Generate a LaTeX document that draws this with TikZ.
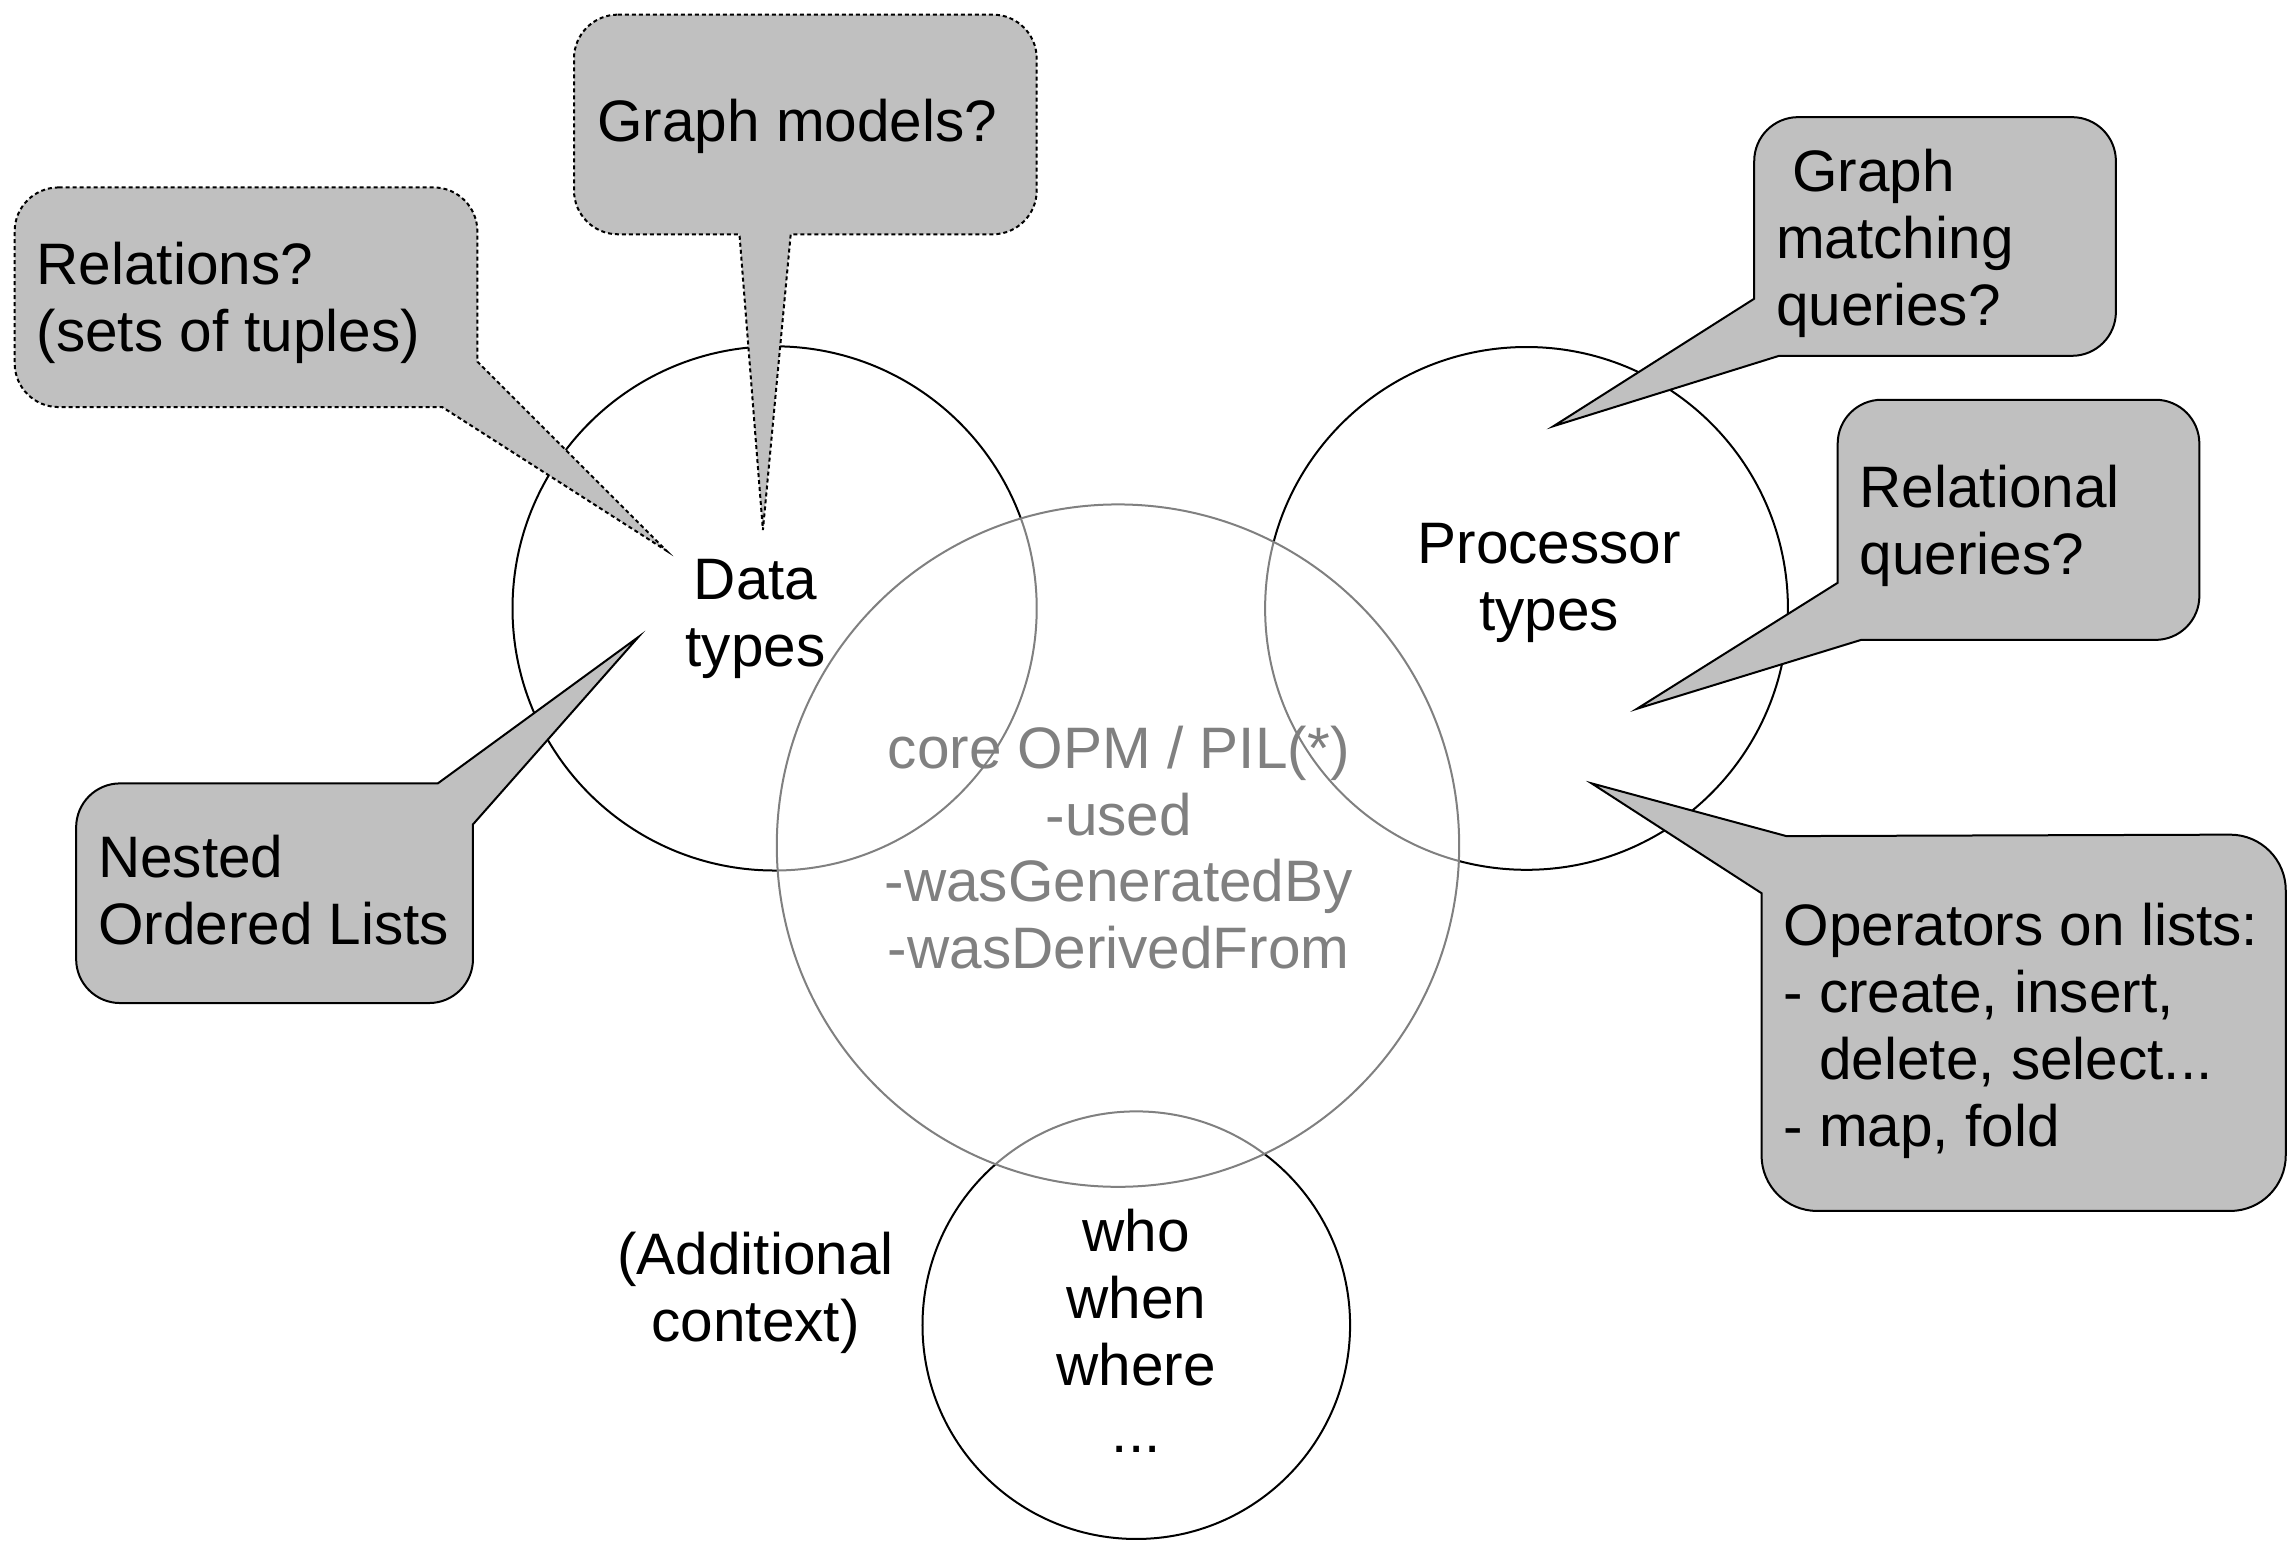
\documentclass[tikz,border=0pt]{standalone}
\usepackage{fontspec}
\setmainfont{Liberation Sans}
\definecolor{bubble}{HTML}{C0C0C0}
\definecolor{coregray}{HTML}{808080}
\begin{document}
\begin{tikzpicture}[x=1.4643pt,y=-1.4643pt,
  every node/.style={inner sep=0pt,outer sep=0pt},
  txt/.style={font=\fontsize{58.5}{67}\selectfont},
  ring/.style={circle,draw=black,line width=2pt},
  bubblebox/.style={fill=bubble,draw=black,line width=2pt,line join=miter},
  dotbox/.style={bubblebox,dash pattern=on 4pt off 3pt}]
\useasboundingbox (0,0) rectangle (1568,1052);

% outer circles
\node[ring,minimum size=524.2pt] (datac) at (529,415.5) {};
\node[ring,minimum size=522.8pt] (procc) at (1042.5,415.5) {};
\node[ring,minimum size=427.6pt] (ctxc) at (776,905) {};

% speech bubbles
\draw[dotbox] (422,10) -- (678,10) arc[start angle=270,end angle=360,radius=30]
  -- (708,130) arc[start angle=0,end angle=90,radius=30]
  -- (540,160) -- (521,362) -- (505,160)
  -- (422,160) arc[start angle=90,end angle=180,radius=30]
  -- (392,40) arc[start angle=180,end angle=270,radius=30] -- cycle;

\draw[dotbox] (40,128) -- (296,128) arc[start angle=270,end angle=360,radius=30]
  -- (326,247) -- (455,376) -- (302,278)
  -- (40,278) arc[start angle=90,end angle=180,radius=30]
  -- (10,158) arc[start angle=180,end angle=270,radius=30] -- cycle;

\draw[bubblebox] (82,535) -- (299,535) -- (436,435) -- (323,563)
  -- (323,655) arc[start angle=0,end angle=90,radius=30]
  -- (82,685) arc[start angle=90,end angle=180,radius=30]
  -- (52,565) arc[start angle=180,end angle=270,radius=30] -- cycle;

\draw[bubblebox] (1228,80) -- (1415,80) arc[start angle=270,end angle=360,radius=30]
  -- (1445,213) arc[start angle=0,end angle=90,radius=30]
  -- (1215,243) -- (1061,291) -- (1198,204)
  -- (1198,110) arc[start angle=180,end angle=270,radius=30] -- cycle;

\draw[bubblebox] (1285,273) -- (1472,273) arc[start angle=270,end angle=360,radius=30]
  -- (1502,407) arc[start angle=0,end angle=90,radius=30]
  -- (1271,437) -- (1118,484) -- (1255,398)
  -- (1255,303) arc[start angle=180,end angle=270,radius=30] -- cycle;

\draw[bubblebox] (1220,571) -- (1523,570) arc[start angle=270,end angle=360,radius=38]
  -- (1561,789) arc[start angle=0,end angle=90,radius=38]
  -- (1241,827) arc[start angle=90,end angle=180,radius=38]
  -- (1203,610) -- (1087,535) -- cycle;

% bubble texts (anchored at the baseline of the last line)
\node[txt,anchor=base west,align=left] (gmodels) at (408,96.5) {Graph models?};
\node[txt,anchor=base west,align=left] (rels) at (25,240.25) {Relations?\\(sets of tuples)};
\node[txt,anchor=base west,align=left] (nested) at (67,645.25) {Nested\\Ordered Lists};
\node[txt,anchor=base west,align=left] (gmq) at (1213,222) {\ Graph\\matching\\queries?};
\node[txt,anchor=base west,align=left] (relq) at (1270,392.25) {Relational\\queries?};
\node[txt,anchor=base west,align=left] (ops) at (1218,782.75)
  {Operators on lists:\\- create, insert,\\\hphantom{-\ }delete, select...\\- map, fold};

% circle labels
\node[txt,anchor=base,align=center] (datat) at (516,455.25) {Data\\types};
\node[txt,anchor=base,align=center] (proct) at (1058,430.25) {Processor\\types};
\node[txt,anchor=base,align=center] (addt) at (516,916.25) {(Additional\\context)};
\node[txt,anchor=base,align=center] (ctxt) at (776,991.75) {who\\when\\where\\...};

% translucent core circle on top
\node[circle,draw=coregray,line width=2pt,fill=white,fill opacity=0.5,
  minimum size=682.4pt] (corec) at (763.5,577.5) {};
\node[txt,anchor=base,align=center,text=coregray] (coret) at (764,661.75)
  {core OPM / PIL(*)\\-used\\-wasGeneratedBy\\-wasDerivedFrom};
\end{tikzpicture}
\end{document}
